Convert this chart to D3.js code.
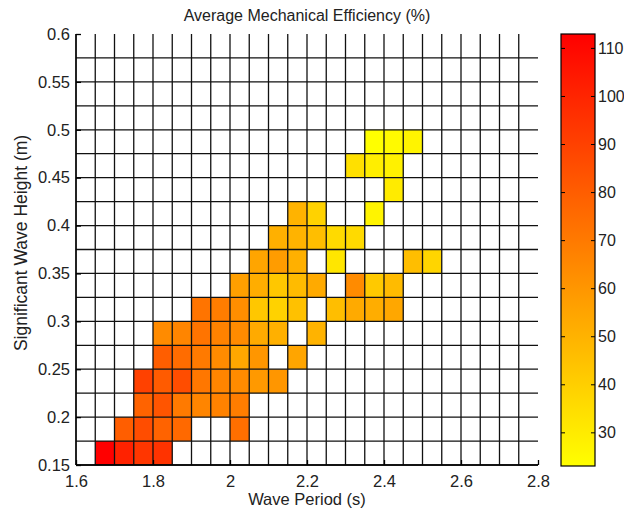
<!DOCTYPE html>
<html>
<head>
<meta charset="utf-8">
<script src="https://cdn.jsdelivr.net/npm/d3@7"></script>
<style>
  body { margin: 0; background: #fff; }
  svg { display: block; font-family: "Liberation Sans", Arial, sans-serif; }
</style>
</head>
<body>
<div id="chart"></div>
<script>
// cell left edges (s) and bottom edges (m)
const periods = [1.60, 1.65, 1.70, 1.75, 1.80, 1.85, 1.90, 1.95, 2.00, 2.05, 2.10, 2.15,
  2.20, 2.25, 2.30, 2.35, 2.40, 2.45, 2.50, 2.55, 2.60, 2.65, 2.70, 2.75];
const heights = [0.150, 0.175, 0.200, 0.225, 0.250, 0.275, 0.300, 0.325, 0.350, 0.375,
  0.400, 0.425, 0.450, 0.475, 0.500, 0.525, 0.550, 0.575];
const xTicks = [1.6, 1.8, 2.0, 2.2, 2.4, 2.6, 2.8];
const yTicks = [0.15, 0.2, 0.25, 0.3, 0.35, 0.4, 0.45, 0.5, 0.55, 0.6];

const n = null;
// efficiency (%) per height row, per period column
const efficiency = [
  [n, 113, 101, 94, 95],
  [n, n, 80, 86, 78, 76, n, n, 74],
  [n, n, n, 78, 83, 70, 66, 67, 69],
  [n, n, n, 90, 81, 86, 71, 66, 64, 59, 60],
  [n, n, n, n, 80, 75, 70, 64, 54, 60, n, 55],
  [n, n, n, n, 64, 66, 72, 67, 64, 53, 51, n, 50],
  [n, n, n, n, n, n, 72, 69, 63, 43, 39, 45, n, 46, 53, 52, 54],
  [n, n, n, n, n, n, n, n, 57, 52, 43, 47, 53, n, 64, 42, 47],
  [n, n, n, n, n, n, n, n, n, 55, 58, 51, n, 32, n, n, n, 46, 38],
  [n, n, n, n, n, n, n, n, n, n, 51, 50, 46, 36, 36],
  [n, n, n, n, n, n, n, n, n, n, n, 50, 39, n, n, 27],
  [n, n, n, n, n, n, n, n, n, n, n, n, n, n, n, n, 30],
  [n, n, n, n, n, n, n, n, n, n, n, n, n, n, 34, 29, 28],
  [n, n, n, n, n, n, n, n, n, n, n, n, n, n, n, 23.1, 25, 27]
];

const dx = 0.05, dy = 0.025;
const W = 624, H = 513;

const cells = [];
efficiency.forEach((row, i) => {
  row.forEach((v, j) => {
    if (v != null) cells.push({ p: periods[j], h: heights[i], v });
  });
});

const x = d3.scaleLinear().domain([1.6, 2.8]).range([76, 538]);
const y = d3.scaleLinear().domain([0.15, 0.6]).range([465, 34]);
const ext = d3.extent(cells, (d) => d.v);
const color = d3.scaleLinear().domain(ext).range(['#ffff00', '#ff0000']);

const svg = d3.select('#chart').append('svg').attr('width', W).attr('height', H);

svg.append('g')
  .selectAll('rect')
  .data(cells)
  .join('rect')
  .attr('x', (d) => x(d.p))
  .attr('y', (d) => y(d.h + dy))
  .attr('width', (d) => x(d.p + dx) - x(d.p))
  .attr('height', (d) => y(d.h) - y(d.h + dy))
  .attr('fill', (d) => color(d.v));

// mesh edges
const grid = svg.append('g').attr('stroke', '#111').attr('stroke-width', 1.3);
grid.selectAll('line.v')
  .data(periods)
  .join('line')
  .attr('class', 'v')
  .attr('x1', (d) => x(d)).attr('x2', (d) => x(d))
  .attr('y1', y(0.15)).attr('y2', y(0.6));
grid.selectAll('line.h')
  .data(heights)
  .join('line')
  .attr('class', 'h')
  .attr('x1', x(1.6)).attr('x2', x(2.8))
  .attr('y1', (d) => y(d)).attr('y2', (d) => y(d));

// axes (ticks point inward)
const fmt = (d) => String(+d.toFixed(2));
const xAxis = svg.append('g')
  .attr('transform', `translate(0,${y(0.15)})`)
  .call(d3.axisBottom(x).tickValues(xTicks).tickSize(-5).tickPadding(10).tickFormat(fmt));
const yAxis = svg.append('g')
  .attr('transform', `translate(${x(1.6)},0)`)
  .call(d3.axisLeft(y).tickValues(yTicks).tickSize(-5).tickPadding(6).tickFormat(fmt));
[xAxis, yAxis].forEach((g) => {
  g.select('.domain').attr('stroke', '#000').attr('stroke-width', 1.3);
  g.selectAll('.tick line').attr('stroke', '#000').attr('stroke-width', 1.3);
  g.selectAll('.tick text').attr('fill', '#222').style('font-size', '16.5px');
});
xAxis.select('.domain').attr('d', `M${x(1.6)},0H${x(2.8)}`);
yAxis.select('.domain').attr('d', `M0,${y(0.15)}V${y(0.6)}`);

svg.append('text')
  .attr('x', (x(1.6) + x(2.8)) / 2).attr('y', 21)
  .attr('text-anchor', 'middle').attr('fill', '#222')
  .style('font-size', '16px')
  .text('Average Mechanical Efficiency (%)');

svg.append('text')
  .attr('x', (x(1.6) + x(2.8)) / 2).attr('y', 505)
  .attr('text-anchor', 'middle').attr('fill', '#222')
  .style('font-size', '16.5px')
  .text('Wave Period (s)');

svg.append('text')
  .attr('transform', `translate(27,243) rotate(-90)`)
  .attr('text-anchor', 'middle').attr('fill', '#222')
  .style('font-size', '17.5px')
  .text('Significant Wave Height (m)');

// colorbar
const cbX = 561, cbW = 34;
const cb = d3.scaleLinear().domain(ext).range([466, 34]);
const grad = svg.append('defs').append('linearGradient')
  .attr('id', 'cbGrad').attr('x1', 0).attr('y1', 1).attr('x2', 0).attr('y2', 0);
grad.append('stop').attr('offset', 0).attr('stop-color', color(ext[0]));
grad.append('stop').attr('offset', 1).attr('stop-color', color(ext[1]));

svg.append('rect')
  .attr('x', cbX).attr('y', cb(ext[1]))
  .attr('width', cbW).attr('height', cb(ext[0]) - cb(ext[1]))
  .attr('fill', 'url(#cbGrad)')
  .attr('stroke', '#000').attr('stroke-width', 1.2);

const cbTicks = cb.ticks(10);
const cbg = svg.append('g');
cbg.selectAll('line.l')
  .data(cbTicks).join('line').attr('class', 'l')
  .attr('x1', cbX).attr('x2', cbX + 4)
  .attr('y1', (d) => cb(d)).attr('y2', (d) => cb(d))
  .attr('stroke', '#000');
cbg.selectAll('line.r')
  .data(cbTicks).join('line').attr('class', 'r')
  .attr('x1', cbX + cbW - 4).attr('x2', cbX + cbW)
  .attr('y1', (d) => cb(d)).attr('y2', (d) => cb(d))
  .attr('stroke', '#000');
cbg.selectAll('text')
  .data(cbTicks).join('text')
  .attr('x', cbX + cbW + 3).attr('y', (d) => cb(d))
  .attr('dy', '0.35em').attr('fill', '#222')
  .style('font-size', '16px')
  .text((d) => d);
</script>
</body>
</html>
